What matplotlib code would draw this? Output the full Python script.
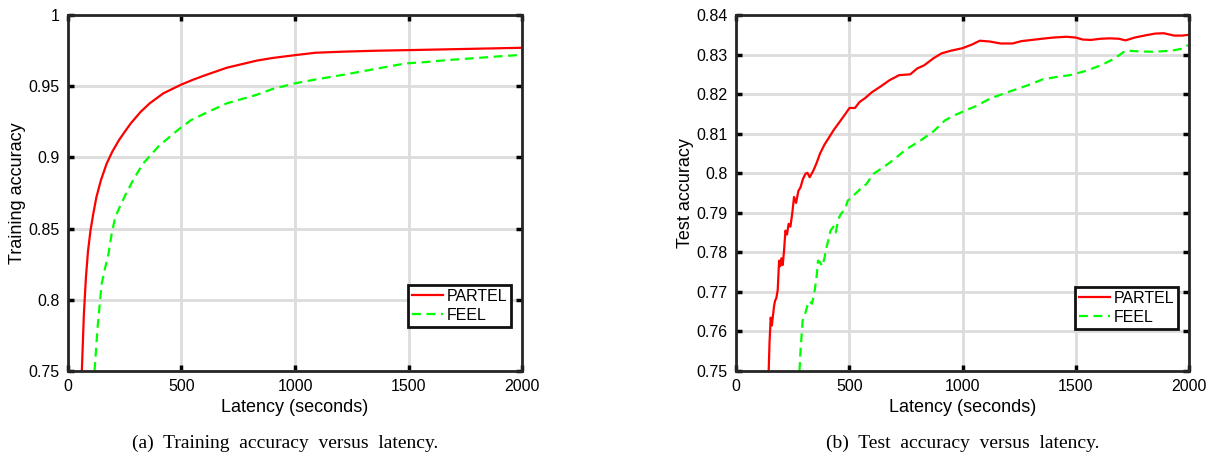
import matplotlib
matplotlib.use("Agg")
import matplotlib.pyplot as plt

plt.rcParams.update({
    "font.family": "sans-serif",
    "font.sans-serif": ["Liberation Sans", "DejaVu Sans"],
    "font.size": 11.5,
})

# (a) training accuracy vs latency
train_partel_x = [61, 70, 79, 88, 99, 112, 125, 145, 170, 195, 224, 250, 277, 320, 360, 420, 497,
                  550, 604, 700, 832, 900, 999, 1090, 1200, 1350, 1516, 1700, 1850, 2000]
train_partel_y = [0.75, 0.79, 0.8157, 0.834, 0.8486, 0.861, 0.872, 0.884, 0.8955, 0.904, 0.912, 0.918,
                  0.924, 0.932, 0.938, 0.945, 0.951, 0.9545, 0.9577, 0.963, 0.968, 0.9698, 0.9718,
                  0.9735, 0.9742, 0.9749, 0.9754, 0.976, 0.9765, 0.977]
train_feel_x = [117, 130, 148, 163, 178, 192, 208, 230, 254, 290, 330, 400, 482, 540, 604, 700, 832,
                900, 999, 1100, 1212, 1350, 1486, 1580, 1668, 1800, 1900, 2000]
train_feel_y = [0.75, 0.78, 0.811, 0.822, 0.832, 0.846, 0.858, 0.866, 0.874, 0.885, 0.8955, 0.908,
                0.919, 0.926, 0.931, 0.938, 0.944, 0.948, 0.952, 0.955, 0.958, 0.962, 0.966, 0.967,
                0.9683, 0.9698, 0.971, 0.972]

# (b) test accuracy vs latency
test_partel_x = [144, 148, 153, 158, 163, 168, 172, 178, 184, 190, 195, 200, 206, 212, 218, 225, 232,
                 240, 248, 256, 265, 275, 285, 295, 307, 315, 325, 340, 355, 371, 390, 410, 432, 455,
                 480, 501, 525, 545, 570, 600, 640, 677, 720, 769, 800, 831, 870, 907, 950, 999, 1040,
                 1076, 1120, 1168, 1220, 1260, 1306, 1350, 1400, 1459, 1500, 1530, 1566, 1610, 1650,
                 1689, 1720, 1760, 1811, 1850, 1888, 1934, 1970, 2000]
test_partel_y = [0.75, 0.7575, 0.7635, 0.7615, 0.764, 0.7665, 0.7677, 0.7685, 0.7705, 0.7779, 0.7765,
                 0.7785, 0.7768, 0.7805, 0.7855, 0.7845, 0.7872, 0.7865, 0.7898, 0.794, 0.7925,
                 0.7955, 0.7965, 0.7985, 0.7999, 0.8001, 0.799, 0.8005, 0.8025, 0.805, 0.8072, 0.809,
                 0.811, 0.8128, 0.8148, 0.8165, 0.8165, 0.818, 0.819, 0.8205, 0.822, 0.8235, 0.8248,
                 0.825, 0.8265, 0.8273, 0.829, 0.8303, 0.831, 0.8316, 0.8325, 0.8335, 0.8333, 0.8328,
                 0.8328, 0.8334, 0.8337, 0.834, 0.8343, 0.8345, 0.8343, 0.8338, 0.8337, 0.834,
                 0.8341, 0.834, 0.8336, 0.8343, 0.8349, 0.8353, 0.8354, 0.8348, 0.8348, 0.835]
test_feel_x = [280, 285, 294, 305, 315, 325, 335, 345, 355, 362, 371, 380, 390, 398, 407, 417, 430,
               440, 452, 463, 475, 485, 493, 505, 520, 540, 555, 575, 590, 608, 650, 693, 750, 815,
               870, 923, 970, 1015, 1060, 1122, 1200, 1291, 1352, 1410, 1474, 1540, 1612, 1670,
               1720, 1780, 1842, 1900, 1934, 1970, 1995]
test_feel_y = [0.75, 0.7555, 0.7627, 0.7645, 0.7665, 0.7677, 0.767, 0.7695, 0.7735, 0.7779, 0.7775,
               0.7765, 0.7785, 0.781, 0.783, 0.7855, 0.7865, 0.785, 0.7885, 0.7897, 0.7905, 0.7915,
               0.7931, 0.7935, 0.7945, 0.7955, 0.7965, 0.7972, 0.7985, 0.7999, 0.8015, 0.8033,
               0.806, 0.8083, 0.8105, 0.8134, 0.8148, 0.8159, 0.817, 0.8189, 0.8205, 0.8223, 0.8237,
               0.8243, 0.8248, 0.8258, 0.8273, 0.829, 0.831, 0.8308, 0.8307, 0.8309, 0.8311,
               0.8315, 0.8324]

train_yticks = [0.75, 0.8, 0.85, 0.9, 0.95, 1.0]
train_yticklabels = ["0.75", "0.8", "0.85", "0.9", "0.95", "1"]
test_yticks = [0.75, 0.76, 0.77, 0.78, 0.79, 0.80, 0.81, 0.82, 0.83, 0.84]
test_yticklabels = ["0.75", "0.76", "0.77", "0.78", "0.79", "0.8", "0.81", "0.82", "0.83", "0.84"]
xticks = [0, 500, 1000, 1500, 2000]

fig = plt.figure(figsize=(12.12, 4.55), dpi=100)
ax1 = fig.add_axes([0.0561, 0.1846, 0.3746, 0.7824])
ax2 = fig.add_axes([0.6073, 0.1846, 0.3738, 0.7824])


def style_axes(ax, yticks, ylabels, ylim, ylabel, legend_anchor):
    ax.set_xlim(0, 2000)
    ax.set_ylim(*ylim)
    ax.set_xticks(xticks)
    ax.set_yticks(yticks)
    ax.set_yticklabels(ylabels)
    ax.grid(True, color="#dcdcdc", linewidth=2)
    ax.set_axisbelow(True)
    ax.tick_params(direction="in", top=True, right=True, length=4, width=2.5, pad=6)
    for s in ax.spines.values():
        s.set_linewidth(2)
        s.set_color("#262626")
    ax.set_xlabel("Latency (seconds)", fontsize=13, labelpad=3)
    ax.set_ylabel(ylabel, fontsize=13, labelpad=2)
    leg = ax.legend(loc="lower right", bbox_to_anchor=legend_anchor, fancybox=False,
                    framealpha=1, borderpad=0.25, handlelength=1.9, handletextpad=0.25,
                    labelspacing=0.25, borderaxespad=0)
    leg.get_frame().set_edgecolor("#111111")
    leg.get_frame().set_linewidth(2)


ax1.plot(train_partel_x, train_partel_y, color="#ff0000", lw=1.6, label="PARTEL")
ax1.plot(train_feel_x, train_feel_y, color="#00ff00", lw=1.6, ls=(0, (4, 2.5)), label="FEEL")
style_axes(ax1, train_yticks, train_yticklabels, (0.75, 1.0), "Training accuracy", (0.976, 0.124))

ax2.plot(test_partel_x, test_partel_y, color="#ff0000", lw=1.6, label="PARTEL")
ax2.plot(test_feel_x, test_feel_y, color="#00ff00", lw=1.6, ls=(0, (4, 2.5)), label="FEEL")
style_axes(ax2, test_yticks, test_yticklabels, (0.75, 0.84), "Test accuracy", (0.976, 0.118))

fig.text(0.235, 0.025, "(a)  Training  accuracy  versus  latency.", ha="center", va="center",
         family="Liberation Serif", fontsize=14)
fig.text(0.794, 0.025, "(b)  Test  accuracy  versus  latency.", ha="center", va="center",
         family="Liberation Serif", fontsize=14)

fig.savefig("out.png", dpi=100)
